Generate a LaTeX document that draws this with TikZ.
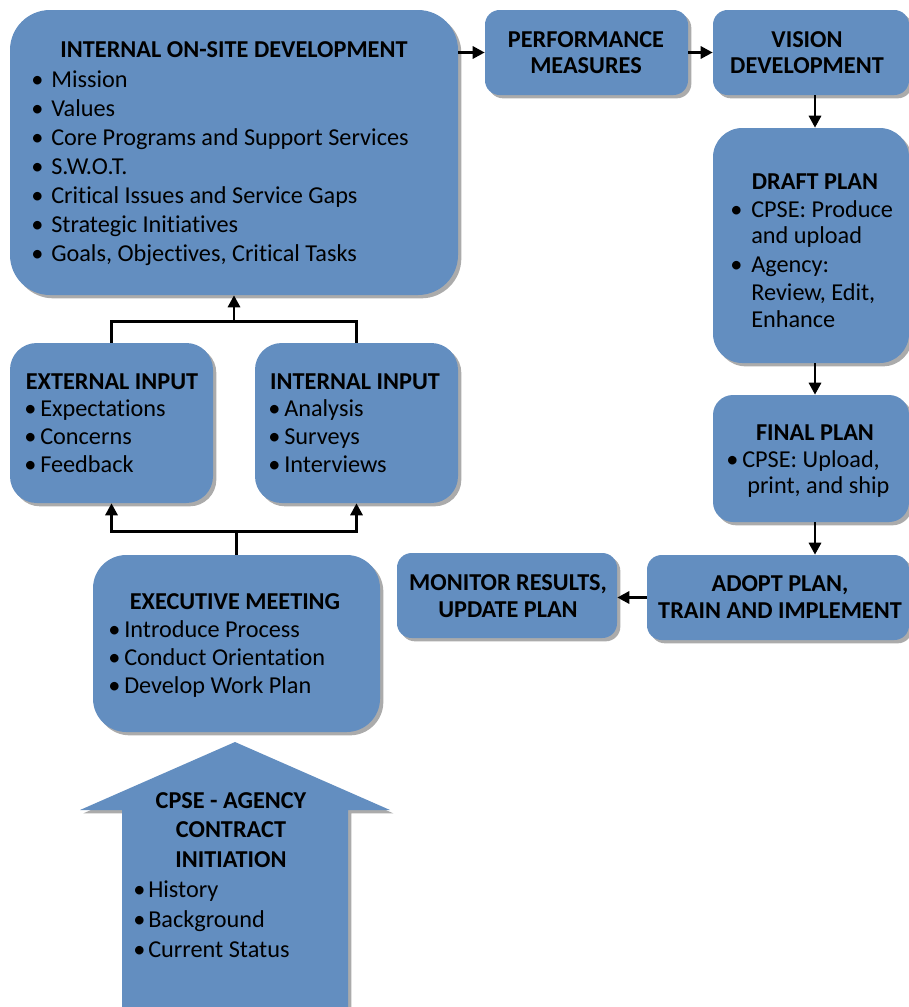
\documentclass[tikz,border=0pt]{standalone}
\usepackage{fontspec}
\setmainfont{Carlito}[Ligatures=NoCommon]
\usetikzlibrary{arrows.meta,fit,shadows}
\definecolor{boxblue}{RGB}{99,142,192}
\newcommand{\bl}[1][12pt]{\makebox[#1][l]{•}}
\tikzset{
  >={Triangle[length=9pt,width=9pt]},
}
\tikzstyle{box}=[fill=boxblue,inner sep=0pt,drop shadow={shadow xshift=2.5pt,shadow yshift=-2.5pt,fill=black!55,opacity=.6}]
\tikzstyle{link}=[line width=2.2pt]
\tikzstyle{head}=[anchor=base,inner sep=0pt,font=\bfseries]
\tikzstyle{item}=[anchor=base west,inner sep=0pt]

\begin{document}
\fontsize{18.2}{21}\selectfont
\begin{tikzpicture}[x=0.75pt,y=-0.75pt]
    \useasboundingbox (0,0) rectangle (909,1007);
    % boxes
    \node[box,rounded corners=30pt,fit={(10,10)(458,295)}] (isd) {};
    \node[box,rounded corners=11pt,fit={(485,10)(688,95)}] (perf) {};
    \node[box,rounded corners=11pt,fit={(713,10)(909,95)}] (vision) {};
    \node[box,rounded corners=22pt,fit={(713,128)(909,363)}] (draft) {};
    \node[box,rounded corners=15pt,fit={(713,395)(909,522)}] (final) {};
    \node[box,rounded corners=11pt,fit={(647,555)(909,640)}] (adopt) {};
    \node[box,rounded corners=11pt,fit={(397,553)(617,638)}] (monitor) {};
    \node[box,rounded corners=20pt,fit={(10,343)(213,503)}] (ext) {};
    \node[box,rounded corners=20pt,fit={(255,343)(458,503)}] (int) {};
    \node[box,rounded corners=25pt,fit={(93,555)(380,732)}] (exec) {};
    \fill[boxblue,drop shadow={shadow xshift=2.5pt,shadow yshift=-2.5pt,fill=black!55,opacity=.6}]
      (235,742) -- (390,810) -- (348,810) -- (348,1020) -- (122,1020) -- (122,810) -- (80,810) -- cycle;

    % texts
    \node[head] (isd-t) at (234,57) {INTERNAL ON-SITE DEVELOPMENT};
    \foreach \t [count=\i] in {Mission, Values, Core Programs and Support Services, S.W.O.T.,
      Critical Issues and Service Gaps, Strategic Initiatives, {Goals, Objectives, Critical Tasks}}
      \node[item] (isd-\i) at (31,58+29*\i) {\bl[15pt]\t};

    \node[head] (perf-1) at (586,47) {PERFORMANCE};
    \node[head] (perf-2) at (586,73) {MEASURES};
    \node[head] (vision-1) at (807,47) {VISION};
    \node[head] (vision-2) at (807,73) {DEVELOPMENT};

    \node[head] (draft-t) at (815,189) {DRAFT PLAN};
    \node[item] (draft-1) at (730,217) {\bl[15.75pt]CPSE: Produce};
    \node[item] (draft-2) at (751,243) {and upload};
    \node[item] (draft-3) at (730,272) {\bl[15.75pt]Agency:};
    \node[item] (draft-4) at (751,300) {Review, Edit,};
    \node[item] (draft-5) at (751,327) {Enhance};

    \node[head] (final-t) at (815,440) {FINAL PLAN};
    \node[item] (final-1) at (726,467) {\bl[12pt]CPSE: Upload,};
    \node[item] (final-2) at (747,493) {print, and ship};

    \node[head] (adopt-1) at (780,591) {ADOPT PLAN,};
    \node[head] (adopt-2) at (780,618) {TRAIN AND IMPLEMENT};
    \node[head] (monitor-1) at (508,590) {MONITOR RESULTS,};
    \node[head] (monitor-2) at (508,617) {UPDATE PLAN};

    \node[head] (ext-t) at (112,389) {EXTERNAL INPUT};
    \foreach \t [count=\i] in {Expectations, Concerns, Feedback}
      \node[item] (ext-\i) at (24,388+28*\i) {\bl\t};
    \node[head] (int-t) at (355,389) {INTERNAL INPUT};
    \foreach \t [count=\i] in {Analysis, Surveys, Interviews}
      \node[item] (int-\i) at (268,388+28*\i) {\bl\t};

    \node[head] (exec-t) at (235,609) {EXECUTIVE MEETING};
    \foreach \t [count=\i] in {Introduce Process, Conduct Orientation, Develop Work Plan}
      \node[item] (exec-\i) at (108,609+28*\i) {\bl\t};

    \node[head] (cpse-1) at (231,808) {CPSE - AGENCY};
    \node[head] (cpse-2) at (231,837) {CONTRACT};
    \node[head] (cpse-3) at (231,867) {INITIATION};
    \foreach \t [count=\i] in {History, Background, Current Status}
      \node[item] (cpse-\i) at (133,867+30*\i) {\bl[11.25pt]\t};

    % connectors
    \draw[link,->] (isd.east |- perf.west) -- (perf.west);
    \draw[link,->] (perf.east) -- (vision.west);
    \draw[link,->] ([xshift=3pt]vision.south) -- ([xshift=3pt]vision.south |- draft.north);
    \draw[link,->] ([xshift=3pt]draft.south) -- ([xshift=3pt]draft.south |- final.north);
    \draw[link,->] ([xshift=3pt]final.south) -- ([xshift=3pt]final.south |- adopt.north);
    \draw[link,->] (adopt.west) -- (adopt.west -| monitor.east);
    \coordinate (up) at ([yshift=-19.5pt]isd.south);
    \draw[link] (ext.north) |- (up) -| (int.north);
    \draw[link,->] (up) -- (isd.south);
    \coordinate (dn) at ([yshift=17.25pt]exec.north);
    \draw[link] (exec.north) -- (dn);
    \draw[link,->] (dn) -| (ext.south);
    \draw[link,->] (dn) -| (int.south);
\end{tikzpicture}
\end{document}
